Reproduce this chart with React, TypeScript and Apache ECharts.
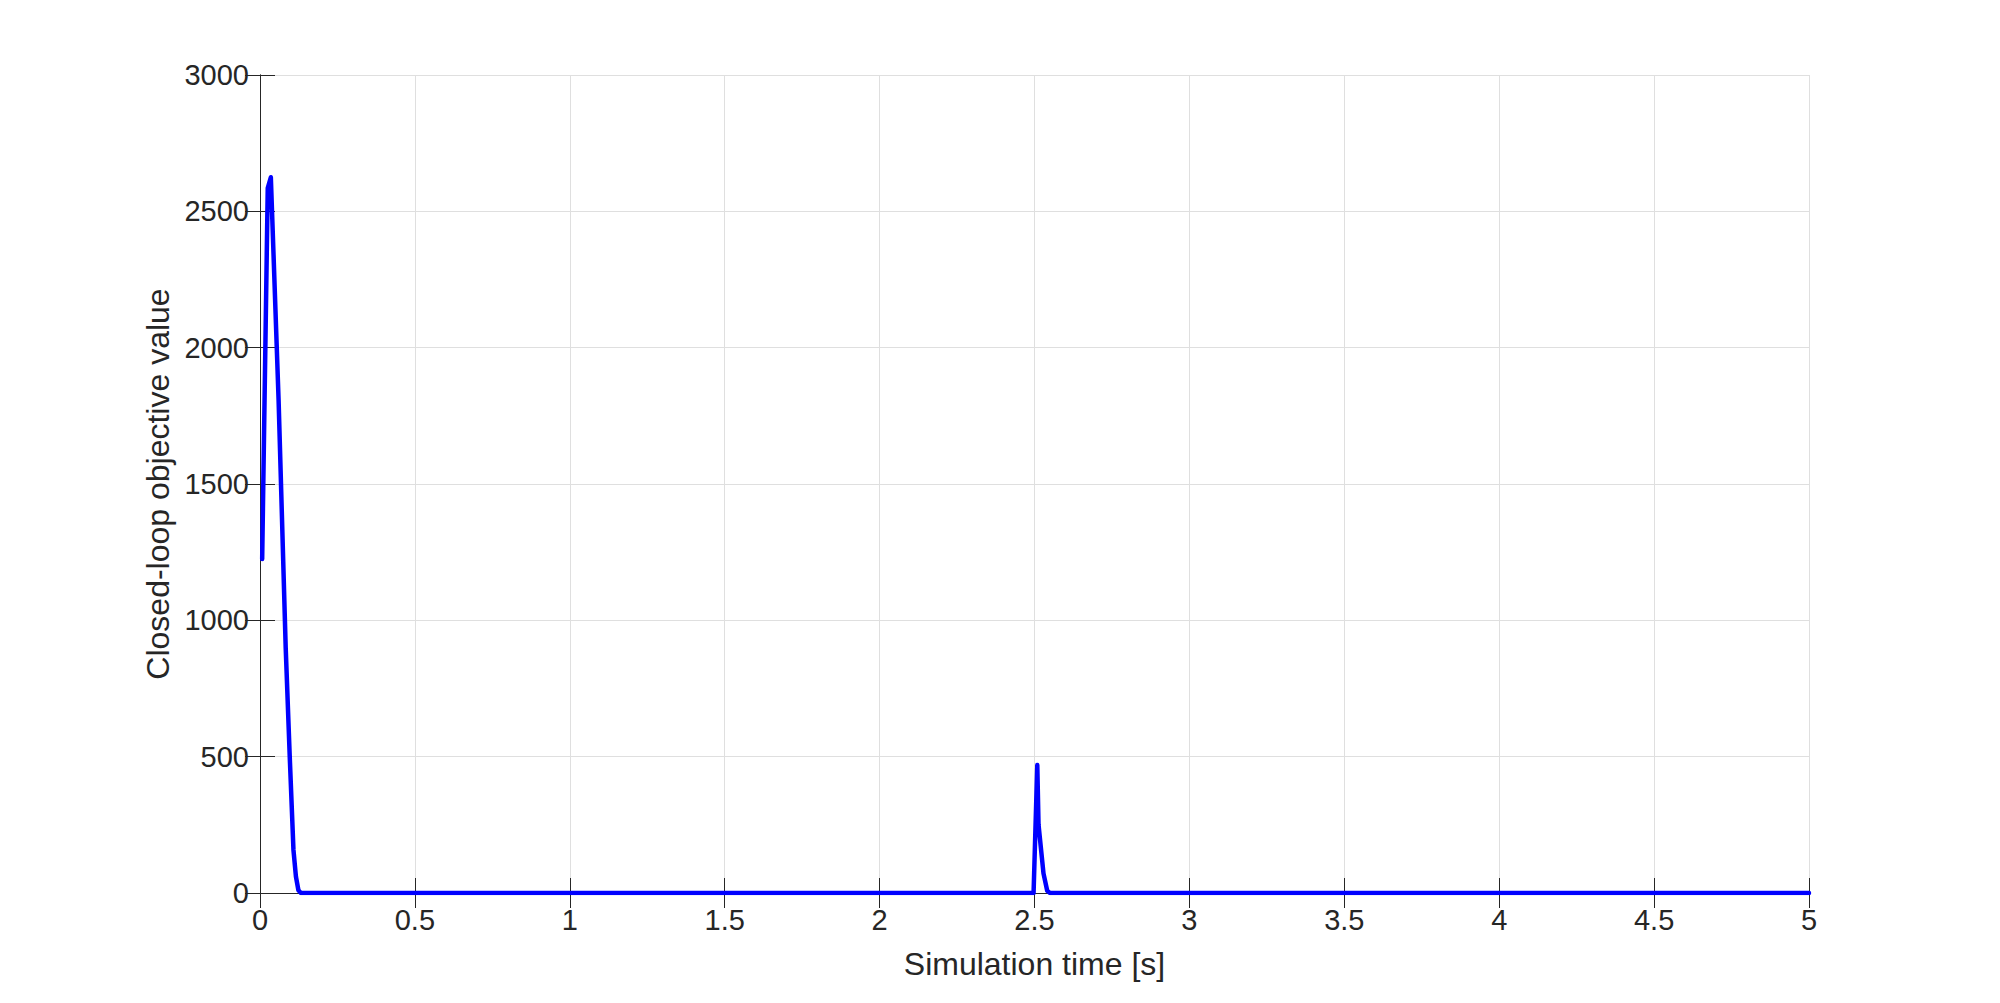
import React, { useEffect, useRef } from "react";
import * as echarts from "echarts";

// Simulation time [s] and closed-loop objective value
const timeS: number[] = [0.007, 0.025, 0.035, 0.06, 0.083, 0.096, 0.108, 0.116, 0.124, 0.132, 2.497, 2.509, 2.513, 2.529, 2.541, 2.55, 5];
const objective: number[] = [1225, 2585, 2625, 1808, 898, 500, 158, 60, 10, 0, 0, 469, 250, 72, 8, 0, 0];

const xTitle = "Simulation time [s]";
const yTitle = "Closed-loop objective value";

const FONT = "'Liberation Sans', Arial, Helvetica, sans-serif";
const TXT = "#262626";
const GRIDC = "#dfdfdf";

export default function App() {
  const ref = useRef<HTMLDivElement>(null);
  useEffect(() => {
    if (!ref.current) return;
    const chart = echarts.init(ref.current, undefined, { renderer: "svg" });
    const data = timeS.map((t, i) => [t, objective[i]]);
    const axisCommon = {
      axisLine: { show: true, lineStyle: { color: TXT, width: 1 } },
      axisTick: { show: true, inside: true, length: 15, lineStyle: { color: TXT, width: 1 } },
    };
    const plain = (v: number) => String(v);
    chart.setOption({
      animation: false,
      backgroundColor: "#ffffff",
      grid: { left: 260, right: 191, top: 75, bottom: 110, containLabel: false },
      xAxis: [
        {
          type: "value",
          min: 0,
          max: 5,
          interval: 0.5,
          position: "bottom",
          ...axisCommon,
          splitLine: { show: true, lineStyle: { color: GRIDC, width: 1 } },
          axisLabel: { color: TXT, fontSize: 29, fontFamily: FONT, margin: 12, formatter: plain },
          name: xTitle,
          nameLocation: "middle",
          nameGap: 55,
          nameTextStyle: { color: TXT, fontSize: 32, fontFamily: FONT },
        },
        {
          type: "value",
          min: 0,
          max: 5,
          interval: 0.5,
          position: "top",
          ...axisCommon,
          splitLine: { show: false },
          axisLabel: { show: false },
        },
      ],
      yAxis: [
        {
          type: "value",
          min: 0,
          max: 3000,
          interval: 500,
          position: "left",
          ...axisCommon,
          splitLine: { show: true, lineStyle: { color: GRIDC, width: 1 } },
          axisLabel: { color: TXT, fontSize: 29, fontFamily: FONT, margin: 11, formatter: plain },
          name: yTitle,
          nameLocation: "middle",
          nameGap: 79,
          nameTextStyle: { color: TXT, fontSize: 32, fontFamily: FONT },
        },
        {
          type: "value",
          min: 0,
          max: 3000,
          interval: 500,
          position: "right",
          ...axisCommon,
          splitLine: { show: false },
          axisLabel: { show: false },
        },
      ],
      series: [
        {
          type: "line",
          data,
          xAxisIndex: 0,
          yAxisIndex: 0,
          showSymbol: false,
          symbol: "none",
          lineStyle: { color: "#0000ff", width: 4.5, join: "round", cap: "round" },
          clip: true,
          z: 5,
        },
      ],
    });
    return () => chart.dispose();
  }, []);
  return (
    <div
      ref={ref}
      style={{ position: "absolute", left: 0, top: 0, width: 2000, height: 1003, background: "#fff" }}
    />
  );
}
